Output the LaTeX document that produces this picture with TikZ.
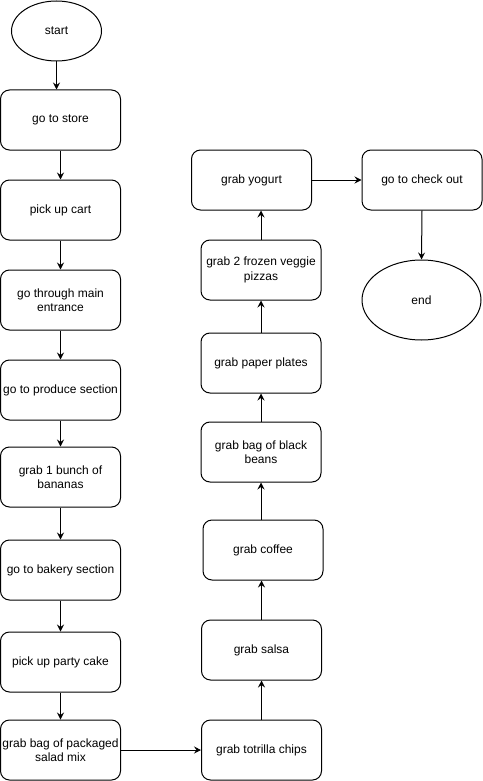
\documentclass[tikz,border=0pt]{standalone}
\usepackage{fontspec}
\setmainfont{Liberation Sans}
\usetikzlibrary{arrows.meta,shapes.geometric}
\begin{document}
\begin{tikzpicture}[x=1pt,y=-1pt,
  every node/.style={font=\fontsize{12}{14.5}\selectfont, align=center, inner sep=0pt},
  stepbox/.style={draw, line width=1pt, rounded corners=9pt, minimum width=120pt, minimum height=60pt},
  term/.style={draw, line width=1pt, ellipse, minimum width=90pt, minimum height=60pt},
  link/.style={line width=1pt, -{Stealth[length=7pt,width=7pt,inset=2.5pt]}}]
\useasboundingbox (0,0) rectangle (482,781);
\node[term] (start) at (56.5,31) {start};
\node[stepbox] (store) at (60.5,120) {go to store};
\node[stepbox] (cart) at (60.5,210) {pick up cart};
\node[stepbox] (entr) at (60.5,300) {go through main\\entrance};
\node[stepbox] (prod) at (60.5,390) {go to produce section};
\node[stepbox] (ban) at (60.5,477) {grab 1 bunch of\\bananas};
\node[stepbox] (bak) at (60.5,570) {go to bakery section};
\node[stepbox] (cake) at (60.5,662) {pick up party cake};
\node[stepbox] (salad) at (60.5,750) {grab bag of packaged\\salad mix};
\node[stepbox] (chips) at (261.5,750) {grab totrilla chips};
\node[stepbox] (salsa) at (261.5,650) {grab salsa};
\node[stepbox] (coffee) at (263,550) {grab coffee};
\node[stepbox] (beans) at (261,452) {grab bag of black\\beans};
\node[stepbox] (plates) at (261,363) {grab paper plates};
\node[stepbox] (pizza) at (261,270) {grab 2 frozen veggie\\pizzas};
\node[stepbox] (yog) at (251.5,180) {grab yogurt};
\node[stepbox] (check) at (422,180) {go to check out};
\node[term, minimum width=119pt, minimum height=80pt] (end) at (421.5,300) {end};
\draw[link] (start.south) -- (start.south |- store.north);
\draw[link] (store.south) -- (cart.north);
\draw[link] (cart.south) -- (entr.north);
\draw[link] (entr.south) -- (prod.north);
\draw[link] (prod.south) -- (ban.north);
\draw[link] (ban.south) -- (bak.north);
\draw[link] (bak.south) -- (cake.north);
\draw[link] (cake.south) -- (salad.north);
\draw[link] (salad.east) -- (chips.west);
\draw[link] (chips.north) -- (salsa.south);
\draw[link] (salsa.north) -- (salsa.north |- coffee.south);
\draw[link] (coffee.north -| beans.north) -- (beans.south);
\draw[link] (beans.north) -- (plates.south);
\draw[link] (plates.north) -- (pizza.south);
\draw[link] (pizza.north) -- (pizza.north |- yog.south);
\draw[link] (yog.east) -- (check.west);
\draw[link] (check.south) -- (end.north);
\end{tikzpicture}
\end{document}
